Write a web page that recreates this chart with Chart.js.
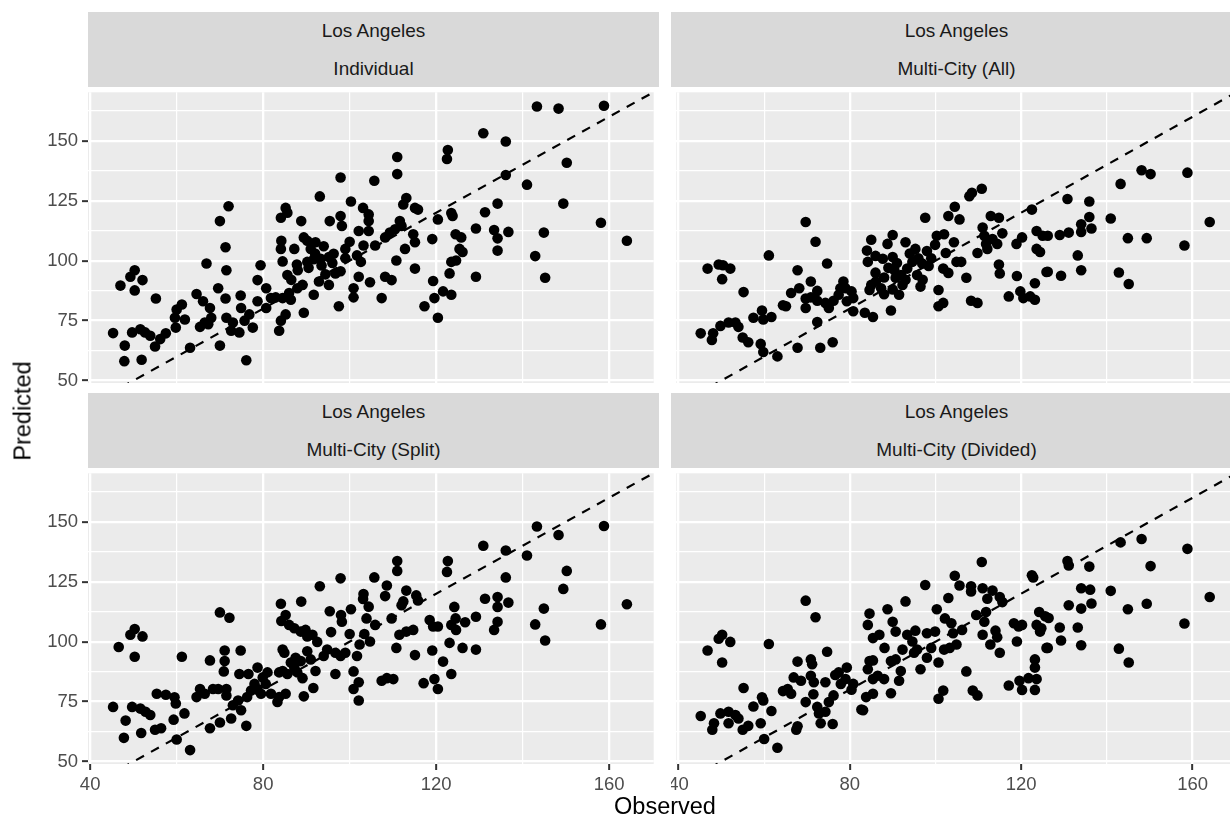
<!DOCTYPE html>
<html>
<head>
<meta charset="utf-8">
<script src="https://cdn.jsdelivr.net/npm/chart.js"></script>
<style>
  body { margin: 0; width: 1230px; height: 820px; overflow: hidden; background: #fff; position: relative;
         font-family: "Liberation Sans", Arial, sans-serif; }
  .strip { position: absolute; background: #d9d9d9; color: #1a1a1a; font-size: 19px; text-align: center; }
  .strip div { height: 37.5px; line-height: 37.5px; }
  .panel { position: absolute; }
  .title { position: absolute; color: #000; font-size: 23.5px; white-space: nowrap; }
</style>
</head>
<body>
<div class="strip" style="left:88px;top:12px;width:571px;height:75px"><div>Los Angeles</div><div>Individual</div></div>
<div class="strip" style="left:671px;top:12px;width:571px;height:75px"><div>Los Angeles</div><div>Multi-City (All)</div></div>
<div class="strip" style="left:88px;top:393px;width:571px;height:75px"><div>Los Angeles</div><div>Multi-City (Split)</div></div>
<div class="strip" style="left:671px;top:393px;width:571px;height:75px"><div>Los Angeles</div><div>Multi-City (Divided)</div></div>

<div class="panel" style="left:0px;top:87px;width:659px;height:306px"><canvas id="c0"></canvas></div>
<div class="panel" style="left:671px;top:87px;width:571px;height:306px"><canvas id="c1"></canvas></div>
<div class="panel" style="left:0px;top:468px;width:659px;height:328px"><canvas id="c2"></canvas></div>
<div class="panel" style="left:671px;top:468px;width:571px;height:328px"><canvas id="c3"></canvas></div>

<div class="title" style="left:665px;top:806px;transform:translate(-50%,-50%)">Observed</div>
<div class="title" style="left:23px;top:411px;transform:translate(-50%,-50%) rotate(-90deg)">Predicted</div>

<script>
// tick positions (major + minor grid)
const xTicks = [40, 60, 80, 100, 120, 140, 160];
const yTicks = [50, 62.5, 75, 87.5, 100, 112.5, 125, 137.5, 150, 162.5];
const refLine = [30, 180]; // y = x

// Individual
const indivObs = [
  45.3,48.0,47.9,51.9,49.7,51.6,52.7,53.9,55.0,56.2,
  57.5,59.8,59.6,60.0,61.2,61.9,47.0,49.3,50.3,50.3,
  52.1,55.2,63.1,64.6,66.1,65.4,66.9,67.7,68.0,67.3,
  66.5,69.6,70.0,72.0,71.3,71.5,71.3,71.5,70.0,72.6,
  73.0,74.5,74.8,74.9,76.1,75.7,76.8,77.6,78.7,78.7,
  79.4,80.7,80.7,81.8,83.7,84.1,85.2,82.9,84.5,86.4,
  86.0,87.9,89.1,89.4,91.7,85.6,87.8,84.5,90.2,91.7,
  93.3,95.2,96.3,92.9,94.4,95.2,96.7,97.9,97.5,84.2,
  84.1,87.2,89.4,90.2,91.0,92.1,84.1,85.2,85.6,88.8,
  93.1,95.4,97.9,98.2,97.9,100.3,99.0,100.0,102.1,103.1,
  104.4,104.4,104.4,103.2,101.7,102.6,102.1,100.9,100.9,104.7,
  105.9,105.7,107.4,108.2,109.7,108.2,109.3,110.5,111.6,112.0,
  111.0,111.0,110.8,112.8,113.1,112.4,115.1,115.8,114.7,115.1,
  115.1,117.3,119.1,119.3,119.6,120.4,120.4,121.6,122.7,122.5,
  123.5,123.8,123.5,123.1,123.5,124.6,124.5,125.8,125.4,126.1,
  129.2,129.2,130.9,131.3,133.4,134.2,134.2,134.2,136.1,136.1,
  136.7,141.0,142.9,143.3,144.9,145.2,148.3,149.4,150.2,158.1,158.8,164.1,
  86.5,88.0,90.5,93.5,96.0,99.0,92.0,94.0
];
const indivPred = [
  69.8,64.6,58.1,58.7,70.1,71.4,70.1,68.7,64.2,67.3,
  69.7,72.1,76.2,79.6,81.7,75.5,89.6,93.3,96.0,87.6,
  91.9,84.2,63.7,86.1,83.1,72.4,98.8,80.3,76.2,73.5,
  74.2,88.5,116.5,122.7,105.6,96.0,84.2,76.2,64.6,70.8,
  74.2,70.1,85.5,80.3,58.5,75.0,77.6,72.1,83.1,91.9,
  98.1,88.5,80.3,84.4,70.8,75.0,77.6,84.7,84.4,83.7,
  86.5,88.5,89.9,78.3,85.8,94.0,98.4,99.7,99.5,100.6,
  100.8,101.5,102.9,91.3,94.3,89.9,94.7,95.6,81.0,108.3,
  104.9,104.9,109.7,108.3,104.9,107.7,117.9,122.0,120.0,116.5,
  126.8,116.5,118.6,114.5,134.7,124.7,104.9,107.9,112.4,122.0,
  119.3,116.5,112.4,106.3,102.2,99.5,93.3,88.5,84.7,91.0,
  106.3,133.3,84.4,93.3,91.9,109.7,111.7,113.1,116.5,114.5,
  143.2,136.1,100.1,104.9,126.1,123.4,122.0,121.3,111.0,107.7,
  96.7,81.0,109.0,91.5,84.4,76.2,117.2,87.2,146.1,142.4,
  119.9,118.6,85.8,94.7,99.5,100.1,111.0,109.7,104.9,103.6,
  113.4,93.3,153.1,120.2,112.8,123.8,109.3,104.2,149.7,135.7,
  112.0,131.7,101.9,164.3,111.7,92.9,163.4,123.8,140.8,115.8,164.6,108.3,
  92.0,96.0,97.0,98.0,99.0,101.0,103.0,106.0
];

// Multi-City (All)
const allObs = [
  45.2,47.8,48.1,49.8,51.7,53.3,54.0,55.0,56.3,46.8,
  49.4,50.4,52.1,50.2,55.2,57.5,59.5,59.8,61.7,59.2,
  59.8,63.1,61.1,64.4,65.1,66.3,68.2,67.8,67.8,69.7,
  69.7,69.7,70.9,70.9,72.0,72.4,72.4,72.4,73.1,74.7,
  74.3,75.1,76.0,76.2,77.4,77.8,78.5,79.0,79.3,80.4,
  80.8,80.8,83.5,85.4,85.0,84.0,84.2,85.0,84.6,86.1,
  87.3,87.7,88.8,89.6,90.0,90.0,90.4,90.7,91.5,92.3,
  93.0,93.4,94.6,95.3,95.7,96.5,96.9,98.0,98.4,97.6,
  99.9,100.3,102.0,100.7,100.7,101.8,101.8,102.4,103.0,103.0,
  104.5,104.3,104.9,105.6,106.0,107.2,107.9,108.3,108.5,109.8,
  109.8,110.8,111.0,111.4,111.8,112.1,112.9,113.3,114.4,114.8,
  114.8,115.0,115.6,117.1,119.0,118.9,120.2,119.8,120.5,122.1,
  122.5,123.2,123.6,123.6,123.2,125.0,125.9,126.2,124.4,126.2,
  129.0,129.3,131.1,130.8,133.2,134.0,134.0,134.0,135.9,135.9,
  136.4,140.9,142.8,143.2,144.9,145.1,148.1,150.2,149.3,158.1,158.8,164.0,
  86.0,88.0,89.0,91.0,92.0,93.0,94.0,96.0,97.0,99.0,86.0,88.0,90.0
];
const allPred = [
  69.7,66.9,69.7,72.8,74.2,74.2,72.4,68.0,66.0,96.7,
  98.4,98.1,96.7,92.3,86.9,76.2,79.2,75.5,76.5,65.3,
  61.9,60.1,102.2,81.4,81.0,86.5,88.5,96.0,63.7,116.1,
  84.2,80.3,91.3,84.7,107.9,87.4,83.3,74.4,63.7,98.8,
  82.4,80.3,66.0,83.3,85.8,88.5,91.3,88.5,83.1,87.2,
  84.4,78.9,78.3,76.5,108.7,104.2,99.5,89.9,87.8,91.3,
  88.5,100.8,107.0,79.2,110.7,101.5,96.0,92.9,85.8,89.9,
  107.7,96.7,99.5,104.9,94.0,89.2,98.8,104.0,97.8,117.9,
  106.6,110.4,111.0,87.8,81.0,82.4,96.7,103.2,94.9,118.6,
  122.5,107.7,99.5,117.2,99.5,92.9,126.9,83.3,128.3,82.4,
  103.2,130.0,113.8,110.4,107.0,104.9,118.6,109.0,107.0,117.9,
  98.4,94.7,111.4,85.1,93.6,107.0,109.7,87.2,84.4,85.1,
  121.3,90.6,112.4,104.9,83.7,110.4,95.3,110.4,103.6,95.4,
  110.7,93.7,111.7,125.7,102.2,96.0,115.2,112.0,124.7,118.2,
  113.4,117.6,95.1,132.0,109.4,90.3,137.7,136.1,109.4,106.3,136.7,116.1,
  95.0,93.0,97.0,99.0,94.0,92.0,103.0,101.0,92.0,101.0,102.0,86.0,88.0
];

// Multi-City (Split)
const splitObs = [
  45.3,48.2,47.8,51.8,49.7,51.6,52.8,53.9,55.0,56.4,
  55.4,57.5,59.5,59.8,59.3,60.0,61.8,63.1,46.6,49.3,
  50.3,52.1,50.3,61.2,64.6,65.4,66.5,67.7,67.7,68.4,
  69.6,70.0,70.0,72.2,71.1,71.1,70.9,71.5,71.5,72.6,
  73.0,74.2,74.5,74.8,74.9,76.1,76.3,76.6,77.2,78.0,
  78.7,78.7,79.5,79.9,80.6,81.0,81.8,83.3,83.7,85.2,
  83.7,84.5,85.6,87.2,87.9,89.1,89.4,91.6,92.1,84.9,
  84.5,86.4,87.5,88.7,90.2,91.0,92.5,94.0,94.8,96.7,
  96.7,97.9,99.0,84.1,85.2,84.2,86.0,87.2,88.7,89.8,
  90.2,91.4,88.8,93.1,95.7,95.4,97.9,98.0,98.2,100.3,
  100.0,100.9,100.9,102.1,102.1,101.7,102.3,103.1,103.2,103.4,
  104.4,103.9,104.7,105.9,105.7,107.4,108.6,110.1,108.6,108.2,
  109.7,111.0,111.0,110.8,111.5,112.0,112.4,113.1,113.1,114.7,
  115.4,115.8,115.1,117.1,118.5,119.1,119.3,120.4,119.6,120.4,
  121.6,122.7,122.5,123.5,123.1,123.5,124.2,124.5,124.6,126.1,
  126.7,129.2,129.2,130.9,131.3,133.4,134.2,134.2,134.2,136.1,
  136.1,136.7,141.0,142.9,143.3,144.9,145.2,148.3,149.4,150.2,158.1,158.8,164.1
];
const splitPred = [
  72.8,67.1,59.9,61.9,72.8,72.1,70.8,69.4,63.3,63.9,
  78.3,77.9,76.8,74.2,67.5,59.2,70.1,54.8,97.8,102.9,
  105.3,102.2,93.7,93.7,76.9,80.3,78.3,92.2,63.9,80.3,
  80.3,66.3,112.2,110.0,96.3,91.9,87.6,77.6,80.3,68.0,
  73.5,75.5,86.5,96.3,71.4,64.9,76.9,86.5,79.6,82.4,
  89.2,80.3,78.3,85.1,82.4,87.2,78.3,74.9,76.9,78.3,
  87.2,87.8,86.5,89.2,87.2,84.8,77.2,80.7,87.8,95.4,
  96.7,91.3,93.3,91.9,96.0,92.6,99.9,94.0,96.7,86.5,
  95.4,94.0,95.4,115.8,111.1,108.6,107.0,105.6,104.2,104.9,
  102.2,102.9,116.7,123.1,104.0,112.7,126.4,111.1,108.3,113.5,
  103.2,87.6,80.3,83.1,75.5,94.0,98.8,117.8,119.9,103.2,
  114.6,109.7,100.1,107.0,126.8,83.7,84.8,84.4,123.4,119.0,
  109.7,133.6,129.5,97.4,102.9,115.2,116.8,121.3,104.2,104.9,
  119.3,117.2,94.4,82.7,109.0,96.3,106.3,106.3,84.4,80.3,
  91.7,133.6,129.1,86.5,99.5,107.0,114.5,109.7,104.9,97.4,
  108.1,96.7,110.4,140.0,117.9,104.9,118.6,114.5,108.3,138.0,
  126.8,116.3,135.9,107.2,148.0,113.8,100.5,144.5,122.0,129.5,107.2,148.2,115.6
];

// Multi-City (Divided)
const dividedObs = [
  45.2,47.9,48.3,49.8,51.7,51.7,53.3,54.0,55.0,56.3,
  46.8,49.4,50.2,52.1,50.2,55.2,57.5,59.5,59.8,61.7,
  59.2,60.0,63.1,61.1,64.4,65.5,66.3,66.9,67.8,67.5,
  67.8,68.6,69.7,69.7,72.0,70.9,71.2,70.9,71.6,71.5,
  72.4,72.8,73.2,74.3,74.7,74.3,75.1,76.0,76.2,76.6,
  77.4,77.9,79.0,79.3,80.4,80.8,82.7,83.1,83.8,85.4,
  84.2,85.4,86.5,88.0,89.6,91.5,91.9,84.6,85.4,84.6,
  84.2,85.4,86.9,88.1,88.8,90.0,90.7,89.6,90.7,92.3,
  93.0,93.4,94.6,95.0,95.3,95.7,96.5,98.0,98.0,97.6,
  99.0,99.9,100.3,100.7,100.7,101.8,102.2,102.0,103.0,103.3,
  103.7,104.1,104.5,104.9,105.6,106.2,107.2,108.3,108.7,108.3,
  109.5,109.8,110.8,111.0,111.4,111.8,111.0,112.1,112.8,113.3,
  114.0,114.4,115.0,115.6,115.0,117.1,118.3,119.0,119.4,120.2,
  119.6,120.2,121.7,122.5,122.8,123.2,123.2,123.6,123.2,123.6,
  124.2,124.4,125.9,125.6,126.4,124.7,126.2,129.0,129.3,131.1,
  130.8,131.1,133.2,134.0,134.0,134.0,135.9,136.1,136.4,140.9,
  142.8,143.2,144.9,145.1,148.1,150.2,149.3,158.1,158.8,164.0
];
const dividedPred = [
  69.0,63.3,66.0,70.1,70.8,66.0,69.4,68.0,63.3,64.9,
  96.3,101.2,102.9,99.9,91.3,80.7,73.0,76.8,75.5,71.1,
  66.0,59.4,55.8,99.0,79.4,80.3,78.3,85.1,91.7,63.3,
  64.7,83.7,74.8,117.1,110.2,92.6,90.6,85.8,83.1,78.1,
  72.8,70.1,66.0,70.8,95.8,83.1,74.8,65.7,77.6,86.1,
  87.2,82.4,84.4,89.2,80.0,82.4,71.7,71.4,76.9,78.3,
  88.5,84.4,85.8,84.4,78.5,83.7,87.8,91.9,92.2,111.7,
  107.0,101.5,102.9,97.4,113.5,108.3,104.2,91.9,92.6,96.7,
  116.8,102.9,100.1,95.4,104.6,96.7,88.5,93.3,103.5,123.6,
  97.4,104.2,113.5,91.3,76.2,79.6,109.7,96.7,118.2,97.4,
  107.7,103.5,127.5,98.8,123.4,104.9,87.6,123.1,79.6,120.9,
  111.1,77.6,133.2,122.3,108.3,112.4,102.9,117.9,98.8,121.3,
  104.6,101.8,118.6,116.5,95.4,81.7,107.7,100.1,106.3,107.0,
  83.7,79.9,84.8,127.7,126.8,92.6,89.2,84.4,79.9,107.0,
  112.4,104.2,97.4,110.6,109.9,105.6,97.4,105.9,100.5,115.2,
  133.6,131.8,105.9,98.5,113.8,122.3,131.3,121.7,115.9,121.2,
  97.1,141.4,113.5,91.3,142.8,131.5,115.8,107.6,138.7,118.6
];

Chart.defaults.font.family = '"Liberation Sans", Arial, sans-serif';

const isMajorX = v => v % 40 === 0;
const isMajorY = v => v % 25 === 0;

// grey panel background
const panelBg = {
  id: 'panelBg',
  beforeDraw(chart) {
    const { ctx, chartArea: a } = chart;
    ctx.save();
    ctx.fillStyle = '#ebebeb';
    ctx.fillRect(a.left, a.top, a.right - a.left, a.bottom - a.top);
    ctx.restore();
  }
};

function drawPanel(id, obs, pred, showX, showY, xHeight) {
  const pts = obs.map((x, i) => ({ x: x, y: pred[i] }));
  new Chart(document.getElementById(id), {
    type: 'scatter',
    data: {
      datasets: [
        {
          data: refLine.map(v => ({ x: v, y: v })),
          showLine: true,
          borderColor: '#000',
          borderWidth: 2.2,
          borderDash: [9, 8],
          pointRadius: 0,
          order: 0
        },
        {
          data: pts,
          pointRadius: 5.3,
          pointBorderWidth: 0,
          pointBackgroundColor: '#000',
          order: 1
        }
      ]
    },
    options: {
      responsive: true,
      maintainAspectRatio: false,
      animation: false,
      layout: { padding: 0 },
      plugins: { legend: { display: false }, tooltip: { enabled: false } },
      scales: {
        x: {
          type: 'linear',
          min: 39.5,
          max: 170.3,
          afterBuildTicks: s => { s.ticks = xTicks.map(v => ({ value: v })); },
          afterFit: s => { s.height = xHeight; s.paddingLeft = 0; s.paddingRight = 0; },
          ticks: {
            display: showX, autoSkip: false, maxRotation: 0, padding: 4,
            color: '#4d4d4d', font: { size: 18.5 },
            callback: v => isMajorX(v) ? String(v) : ''
          },
          grid: {
            color: '#ffffff',
            lineWidth: c => isMajorX(c.tick.value) ? 2.3 : 1.2,
            drawTicks: showX,
            tickLength: 6,
            tickWidth: 2,
            tickColor: c => isMajorX(c.tick.value) ? '#333333' : 'rgba(0,0,0,0)'
          },
          border: { display: false }
        },
        y: {
          type: 'linear',
          min: 49,
          max: 170.2,
          afterBuildTicks: s => { s.ticks = yTicks.map(v => ({ value: v })); },
          afterFit: s => { s.width = showY ? 88 : 0; s.paddingTop = 0; s.paddingBottom = 0; },
          ticks: {
            display: showY, autoSkip: false, padding: 4,
            color: '#4d4d4d', font: { size: 18.5 },
            callback: v => isMajorY(v) ? String(v) : ''
          },
          grid: {
            color: '#ffffff',
            lineWidth: c => isMajorY(c.tick.value) ? 2.3 : 1.2,
            drawTicks: showY,
            tickLength: 6,
            tickWidth: 2,
            tickColor: c => isMajorY(c.tick.value) ? '#333333' : 'rgba(0,0,0,0)'
          },
          border: { display: false }
        }
      }
    },
    plugins: [panelBg]
  });
}

drawPanel('c0', indivObs, indivPred, false, true, 10);
drawPanel('c1', allObs, allPred, false, false, 10);
drawPanel('c2', splitObs, splitPred, true, true, 32);
drawPanel('c3', dividedObs, dividedPred, true, false, 32);
</script>
</body>
</html>
